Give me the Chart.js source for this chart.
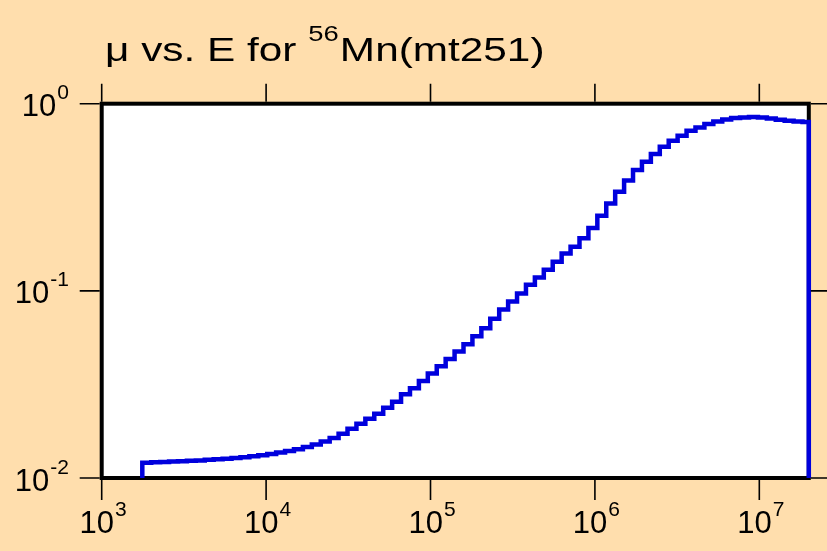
<!DOCTYPE html>
<html>
<head>
<meta charset="utf-8">
<script src="https://cdn.jsdelivr.net/npm/chart.js@4/dist/chart.umd.min.js"></script>
<style>
  html, body { margin: 0; padding: 0; background: #ffdead; }
  #wrap { width: 827px; height: 551px; }
</style>
</head>
<body>
<div id="wrap"><canvas id="muChart" width="827" height="551"></canvas></div>
<script>
// bin edges in eV (histogram steps), last edge is the upper plot limit
const energyEdges = [
  1766, 2001, 2267, 2569, 2911, 3298, 3738, 4235, 4799, 5438,
  6162, 6981, 7911, 8964, 10158, 11510, 13042, 14777, 16744, 18972,
  21498, 24360, 27602, 31276, 35439, 40156, 45502, 51558, 58420, 66195,
  75006, 84990, 96303, 109120, 123645, 140103, 158751, 179882, 203825, 230955,
  261695, 296528, 335998, 380720, 431394, 488813, 553875, 627598, 711131, 805783,
  913033, 1034558, 1172258, 1328285, 1505080, 1705409, 1932399, 2189602, 2481038, 2811265,
  3185454, 3609448, 4089867, 4634228, 5250855, 5949775, 6741722, 7639080, 8656087, 9808207,
  11113690, 12592930, 14269080, 16168320, 18320310, 20000000
];
// mu value in each bin
const muValues = [
  0.01207, 0.01213, 0.01218, 0.01224, 0.01230, 0.01236, 0.01242, 0.01250, 0.01259, 0.01268,
  0.01279, 0.01291, 0.01306, 0.01322, 0.01343, 0.01367, 0.01394, 0.01426, 0.01465, 0.01511,
  0.01568, 0.01636, 0.01723, 0.01835, 0.01952, 0.02075, 0.02207, 0.02376, 0.02559, 0.02803,
  0.03017, 0.03302, 0.03612, 0.03956, 0.04329, 0.04736, 0.05188, 0.05726, 0.06318, 0.07085,
  0.07943, 0.08767, 0.09674, 0.1077, 0.1178, 0.1295, 0.1429, 0.1583, 0.1719, 0.1913,
  0.2164, 0.2518, 0.2930, 0.3384, 0.3888, 0.4418, 0.4895, 0.5383, 0.5888, 0.6340,
  0.6743, 0.7171, 0.7468, 0.7789, 0.8043, 0.8243, 0.8387, 0.8450, 0.8491, 0.8450,
  0.8346, 0.8212, 0.8111, 0.8043, 0.7983
];
const xDecades = [3, 4, 5, 6, 7];   // tick labels 10^n on energy axis
const yDecades = [0, -1, -2];       // tick labels 10^n on mu axis
const xMin = 1e3, xMax = 2e7;
const yMin = 1e-2, yMax = 1;

// histogram outline: rise from the axis, step through bins, drop back down
const points = [{ x: energyEdges[0], y: yMin }];
muValues.forEach((v, i) => points.push({ x: energyEdges[i], y: v }));
points.push({ x: energyEdges[energyEdges.length - 1], y: muValues[muValues.length - 1] });
points.push({ x: energyEdges[energyEdges.length - 1], y: yMin });

const FONT = '"Liberation Sans", Arial, Helvetica, sans-serif';

function drawPower(ctx, exp, x, baseY, mode) {
  ctx.font = '31px ' + FONT;
  const w1 = ctx.measureText('10').width;
  ctx.font = '21px ' + FONT;
  const w2 = ctx.measureText(String(exp)).width;
  let start = mode === 'center' ? x - (w1 + w2) / 2 : x - (w1 + w2);
  ctx.textAlign = 'left';
  ctx.textBaseline = 'alphabetic';
  ctx.font = '31px ' + FONT;
  ctx.fillText('10', start, baseY);
  ctx.font = '21px ' + FONT;
  ctx.fillText(String(exp), start + w1 + 1, baseY - 17);
}

const framePlugin = {
  id: 'frame',
  beforeDatasetsDraw(chart) {
    const { ctx, chartArea: a } = chart;
    ctx.save();
    ctx.fillStyle = '#ffffff';
    ctx.fillRect(a.left, a.top, a.right - a.left, a.bottom - a.top);
    ctx.strokeStyle = '#000000';
    ctx.lineWidth = 4;
    ctx.strokeRect(a.left, a.top, a.right - a.left, a.bottom - a.top);
    ctx.restore();
  },
  afterDraw(chart) {
    const { ctx, chartArea: a } = chart;
    const xs = chart.scales.x, ys = chart.scales.y;
    ctx.save();
    ctx.strokeStyle = '#000000';
    ctx.lineWidth = 1.6;
    ctx.fillStyle = '#000000';
    // outward ticks on all four sides
    xDecades.forEach(n => {
      const px = xs.getPixelForValue(Math.pow(10, n));
      ctx.beginPath();
      ctx.moveTo(px, a.bottom + 2); ctx.lineTo(px, a.bottom + 22);
      ctx.moveTo(px, a.top - 2); ctx.lineTo(px, a.top - 20);
      ctx.stroke();
      drawPower(ctx, n, px + 1, 533, 'center');
    });
    yDecades.forEach(n => {
      const py = ys.getPixelForValue(Math.pow(10, n));
      ctx.beginPath();
      ctx.moveTo(a.left - 2, py); ctx.lineTo(a.left - 22, py);
      ctx.moveTo(a.right + 2, py); ctx.lineTo(a.right + 20, py);
      ctx.stroke();
      drawPower(ctx, n, 68, py + 12.6, 'right');
    });
    // title with superscript mass number, widened like the original
    ctx.translate(105, 61);
    ctx.scale(1.245, 1);
    ctx.textAlign = 'left';
    ctx.font = '34px ' + FONT;
    const p1 = '\u03bc vs. E for ';
    ctx.fillText(p1, 0, 0);
    let cx = ctx.measureText(p1).width;
    ctx.font = '22px ' + FONT;
    ctx.fillText('56', cx, -20);
    cx += ctx.measureText('56').width + 1;
    ctx.font = '34px ' + FONT;
    ctx.fillText('Mn(mt251)', cx, 0);
    ctx.restore();
  }
};

const ctx = document.getElementById('muChart').getContext('2d');
new Chart(ctx, {
  type: 'line',
  data: {
    datasets: [{
      label: 'mu',
      data: points,
      borderColor: '#0000dd',
      borderWidth: 4.5,
      stepped: 'before',
      pointRadius: 0,
      fill: false,
      clip: false,
      borderJoinStyle: 'miter',
      borderCapStyle: 'butt'
    }]
  },
  options: {
    responsive: false,
    animation: false,
    layout: {
      padding: { left: 101.7, right: 18.2, top: 103.7, bottom: 73 }
    },
    plugins: {
      legend: { display: false },
      title: { display: false },
      tooltip: { enabled: false }
    },
    scales: {
      x: { type: 'logarithmic', min: xMin, max: xMax, display: false },
      y: { type: 'logarithmic', min: yMin, max: yMax, display: false }
    }
  },
  plugins: [framePlugin]
});
</script>
</body>
</html>
